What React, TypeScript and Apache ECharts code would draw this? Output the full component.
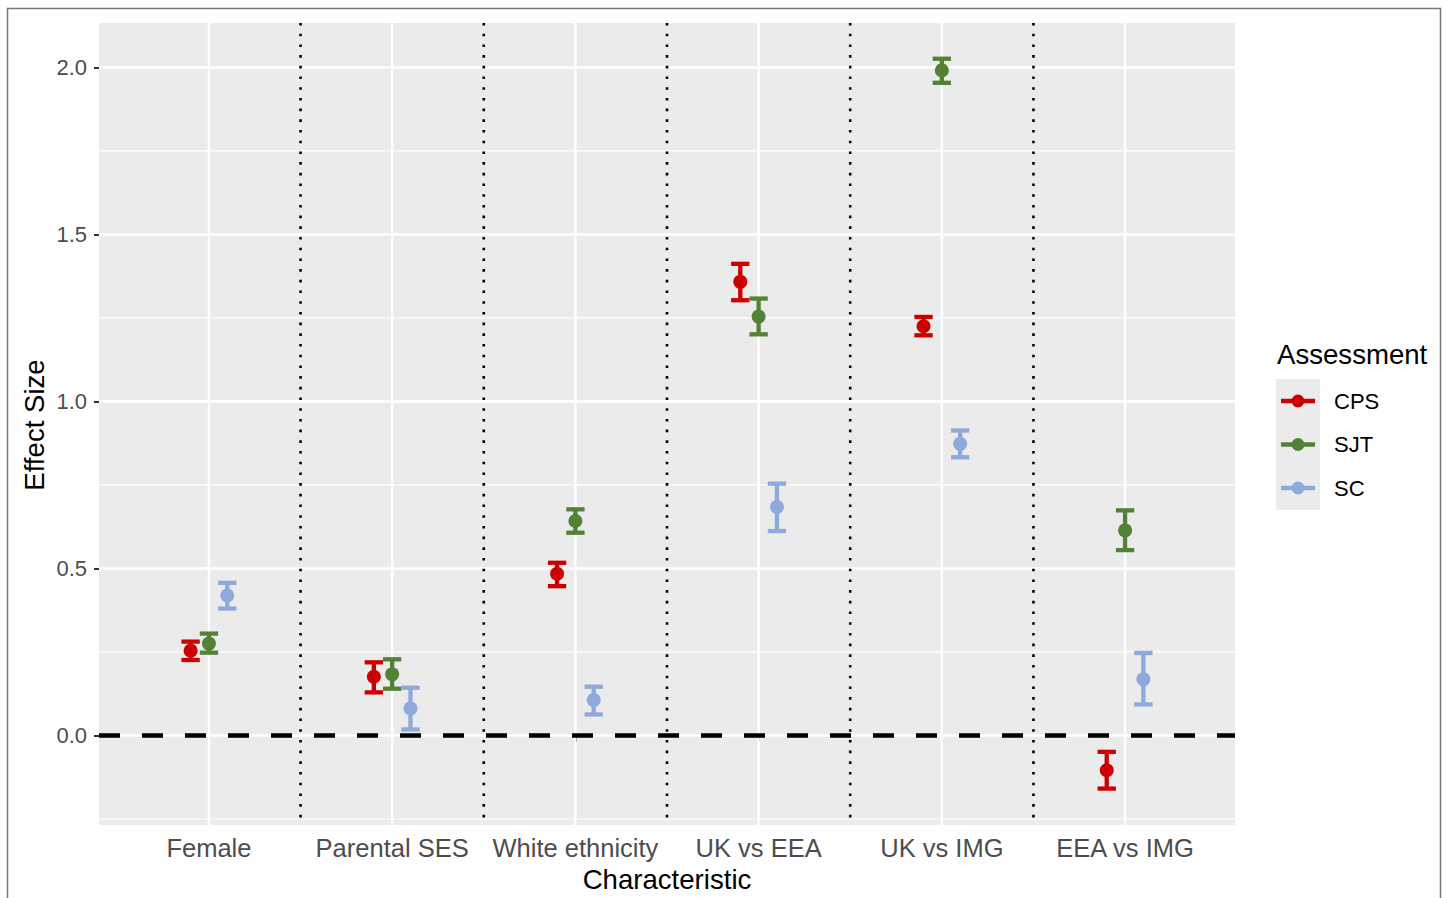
import React, { useEffect, useRef } from "react";
import * as echarts from "echarts";

const CATEGORIES = ["Female", "Parental SES", "White ethnicity", "UK vs EEA", "UK vs IMG", "EEA vs IMG"];
const CATEGORY_POS = [1, 2, 3, 4, 5, 6];
const SEPARATORS = [1.5, 2.5, 3.5, 4.5, 5.5];
const Y_TICKS = [0, 0.5, 1.0, 1.5, 2.0];
const Y_MINOR = [-0.25, 0.25, 0.75, 1.25, 1.75];
const ZERO_LINE = [0];

const ASSESSMENTS = ["CPS", "SJT", "SC"];
const COLORS = ["#CC0000", "#538135", "#8EA9DB"];
const DODGE = [-0.1, 0, 0.1];

const CPS_EST = [0.254, 0.176, 0.484, 1.358, 1.225, -0.104];
const CPS_LO = [0.226, 0.129, 0.447, 1.303, 1.198, -0.159];
const CPS_HI = [0.281, 0.219, 0.517, 1.412, 1.253, -0.049];

const SJT_EST = [0.275, 0.183, 0.642, 1.254, 1.991, 0.614];
const SJT_LO = [0.248, 0.140, 0.607, 1.201, 1.954, 0.555];
const SJT_HI = [0.305, 0.228, 0.677, 1.308, 2.026, 0.674];

const SC_EST = [0.419, 0.081, 0.106, 0.684, 0.873, 0.168];
const SC_LO = [0.380, 0.018, 0.063, 0.612, 0.833, 0.093];
const SC_HI = [0.457, 0.143, 0.146, 0.754, 0.913, 0.247];

const EST = [CPS_EST, SJT_EST, SC_EST];
const LO = [CPS_LO, SJT_LO, SC_LO];
const HI = [CPS_HI, SJT_HI, SC_HI];

const X_MIN = 0.4;
const X_MAX = 6.6;
const Y_MIN = -0.268;
const Y_MAX = 2.133;
const CAP = 0.05;

const FONT = "'Liberation Sans', Arial, Helvetica, sans-serif";

function verticalLines(name: string, values: number[], style: any, z: number) {
  return {
    type: "custom",
    name,
    silent: true,
    z,
    data: values.map((v) => [v, 0]),
    renderItem: (params: any, api: any) => {
      const cs = params.coordSys;
      const p = api.coord([api.value(0), 0]);
      return {
        type: "line",
        shape: { x1: p[0], y1: cs.y, x2: p[0], y2: cs.y + cs.height },
        style,
      };
    },
  };
}

function horizontalLines(name: string, values: number[], style: any, z: number) {
  return {
    type: "custom",
    name,
    silent: true,
    z,
    data: values.map((v) => [1, v]),
    renderItem: (params: any, api: any) => {
      const cs = params.coordSys;
      const p = api.coord([1, api.value(1)]);
      return {
        type: "line",
        shape: { x1: cs.x, y1: p[1], x2: cs.x + cs.width, y2: p[1] },
        style,
      };
    },
  };
}

const LEGEND_ICON =
  "path://M0,4.25 L34,4.25 L34,8.75 L0,8.75 Z M23.5,6.5 A6.5,6.5 0 1 1 10.5,6.5 A6.5,6.5 0 1 1 23.5,6.5 Z";

export default function App() {
  const ref = useRef<HTMLDivElement>(null);
  useEffect(() => {
    const chart = echarts.init(ref.current!, null, { renderer: "svg" });

    const errorSeries = ASSESSMENTS.map((name, k) => ({
      type: "custom",
      name,
      z: 10,
      itemStyle: { color: COLORS[k] },
      data: CATEGORY_POS.map((c, i) => [c + DODGE[k], EST[k][i], LO[k][i], HI[k][i]]),
      renderItem: (params: any, api: any) => {
        const x = api.value(0);
        const c = api.coord([x, api.value(1)]);
        const l = api.coord([x, api.value(2)]);
        const h = api.coord([x, api.value(3)]);
        const cl = api.coord([x - CAP, api.value(2)]);
        const cr = api.coord([x + CAP, api.value(2)]);
        const color = COLORS[k];
        const st = { stroke: color, lineWidth: 4.3, fill: "none" };
        return {
          type: "group",
          children: [
            { type: "line", shape: { x1: l[0], y1: l[1], x2: h[0], y2: h[1] }, style: st },
            { type: "line", shape: { x1: cl[0], y1: l[1], x2: cr[0], y2: l[1] }, style: st },
            { type: "line", shape: { x1: cl[0], y1: h[1], x2: cr[0], y2: h[1] }, style: st },
            { type: "circle", shape: { cx: c[0], cy: c[1], r: 7 }, style: { fill: color } },
          ],
        };
      },
    }));

    const option: any = {
      animation: false,
      backgroundColor: "#ffffff",
      textStyle: { fontFamily: FONT },
      grid: {
        left: 99,
        top: 23,
        width: 1136,
        height: 802,
        containLabel: false,
        show: true,
        backgroundColor: "#EBEBEB",
        borderWidth: 0,
      },
      xAxis: {
        type: "value",
        min: X_MIN,
        max: X_MAX,
        axisLine: { show: false },
        splitLine: { show: false },
        axisTick: {
          show: true,
          customValues: CATEGORY_POS,
          length: 6,
          lineStyle: { color: "#333333", width: 2 },
        },
        axisLabel: {
          customValues: CATEGORY_POS,
          formatter: (v: number) => CATEGORIES[Math.round(v) - 1] ?? "",
          fontSize: 25.5,
          color: "#4D4D4D",
          margin: 10,
          fontFamily: FONT,
        },
      },
      yAxis: {
        type: "value",
        min: Y_MIN,
        max: Y_MAX,
        axisLine: { show: false },
        splitLine: { show: false },
        axisTick: {
          show: true,
          customValues: Y_TICKS,
          length: 5,
          lineStyle: { color: "#333333", width: 2 },
        },
        axisLabel: {
          customValues: Y_TICKS,
          formatter: (v: number) => v.toFixed(1),
          fontSize: 22,
          color: "#4D4D4D",
          margin: 12,
          fontFamily: FONT,
        },
      },
      legend: {
        orient: "vertical",
        left: 1276,
        top: 385,
        itemWidth: 34,
        itemHeight: 13,
        itemGap: 21.5,
        selectedMode: false,
        textStyle: { fontSize: 22, color: "#000000", fontFamily: FONT, padding: [0, 0, 0, 14] },
        data: ASSESSMENTS.map((n) => ({ name: n, icon: LEGEND_ICON })),
      },
      graphic: [
        {
          type: "rect",
          silent: true,
          z: -10,
          shape: { x: 7.5, y: 8.5, width: 1433, height: 900 },
          style: { fill: "none", stroke: "#777777", lineWidth: 1.5 },
        },
        {
          type: "rect",
          silent: true,
          z: 0,
          shape: { x: 1276, y: 379, width: 44, height: 131 },
          style: { fill: "#EBEBEB" },
        },
        {
          type: "text",
          silent: true,
          x: 1277,
          y: 354,
          style: {
            text: "Assessment",
            fontSize: 27.6,
            fill: "#000000",
            fontFamily: FONT,
            textAlign: "left",
            textVerticalAlign: "middle",
          },
        },
        {
          type: "text",
          silent: true,
          x: 667,
          y: 879,
          style: {
            text: "Characteristic",
            fontSize: 27.6,
            fill: "#000000",
            fontFamily: FONT,
            textAlign: "center",
            textVerticalAlign: "middle",
          },
        },
        {
          type: "text",
          silent: true,
          x: 34,
          y: 425,
          rotation: Math.PI / 2,
          style: {
            text: "Effect Size",
            fontSize: 27.6,
            fill: "#000000",
            fontFamily: FONT,
            textAlign: "center",
            textVerticalAlign: "middle",
          },
        },
      ],
      series: [
        horizontalLines("minorY", Y_MINOR, { stroke: "#ffffff", lineWidth: 1.2 }, 1),
        horizontalLines("majorY", Y_TICKS, { stroke: "#ffffff", lineWidth: 2.4 }, 2),
        verticalLines("majorX", CATEGORY_POS, { stroke: "#ffffff", lineWidth: 2.4 }, 2),
        verticalLines("separators", SEPARATORS, { stroke: "#000000", lineWidth: 2.6, lineDash: [2.6, 8.1] }, 3),
        horizontalLines("zero", ZERO_LINE, { stroke: "#000000", lineWidth: 4.5, lineDash: [21, 22] }, 4),
        ...errorSeries,
      ],
    };

    chart.setOption(option);
    return () => chart.dispose();
  }, []);
  return (
    <div
      ref={ref}
      style={{ position: "fixed", left: 0, top: 0, width: 1447, height: 898 }}
    />
  );
}
